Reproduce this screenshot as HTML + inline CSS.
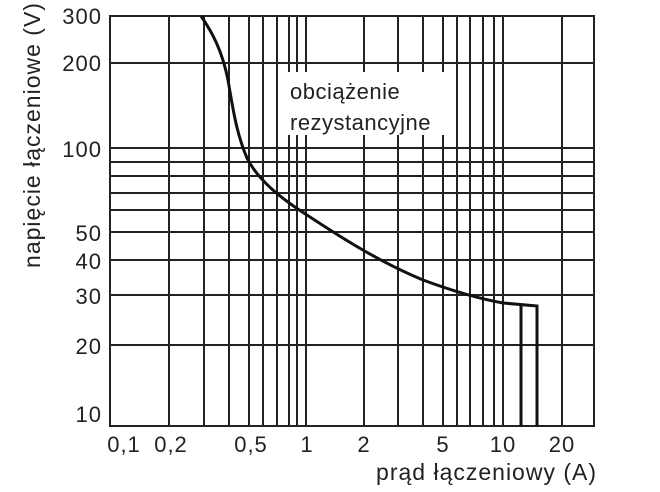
<!DOCTYPE html>
<html><head><meta charset="utf-8"><style>
html,body{margin:0;padding:0;background:#fff;}
svg{display:block;font-family:"Liberation Sans",sans-serif;}
</style></head><body>
<svg width="660" height="492" viewBox="0 0 660 492" xmlns="http://www.w3.org/2000/svg">
<g stroke="#222" stroke-width="2" fill="none">
<line x1="110" y1="63" x2="594" y2="63"/>
<line x1="110" y1="148" x2="594" y2="148"/>
<line x1="110" y1="162" x2="594" y2="162"/>
<line x1="110" y1="176" x2="594" y2="176"/>
<line x1="110" y1="193" x2="594" y2="193"/>
<line x1="110" y1="210" x2="594" y2="210"/>
<line x1="110" y1="232" x2="594" y2="232"/>
<line x1="110" y1="260" x2="594" y2="260"/>
<line x1="110" y1="295" x2="594" y2="295"/>
<line x1="110" y1="345" x2="594" y2="345"/>
<line x1="169" y1="16" x2="169" y2="426"/>
<line x1="204" y1="16" x2="204" y2="426"/>
<line x1="229" y1="16" x2="229" y2="426"/>
<line x1="249" y1="16" x2="249" y2="426"/>
<line x1="263" y1="16" x2="263" y2="426"/>
<line x1="277" y1="16" x2="277" y2="426"/>
<line x1="289" y1="16" x2="289" y2="426"/>
<line x1="297" y1="16" x2="297" y2="426"/>
<line x1="306" y1="16" x2="306" y2="426"/>
<line x1="364" y1="16" x2="364" y2="426"/>
<line x1="398" y1="16" x2="398" y2="426"/>
<line x1="423" y1="16" x2="423" y2="426"/>
<line x1="443" y1="16" x2="443" y2="426"/>
<line x1="457" y1="16" x2="457" y2="426"/>
<line x1="470" y1="16" x2="470" y2="426"/>
<line x1="483" y1="16" x2="483" y2="426"/>
<line x1="494" y1="16" x2="494" y2="426"/>
<line x1="503" y1="16" x2="503" y2="426"/>
<line x1="562" y1="16" x2="562" y2="426"/>
</g>
<rect x="284" y="72" width="162" height="63" fill="#fff"/>
<rect x="110" y="16" width="484" height="410" fill="none" stroke="#222" stroke-width="2"/>
<path d="M201,16 C212,32 222,50 228,80 C233,110 237,135 247,158 C258,180 280,198 310,217 C345,240 380,262 423,280 C450,290 475,298 503,303 L537,306 L537,426 M521,305 L521,426" fill="none" stroke="#111" stroke-width="3"/>
<g font-size="22" fill="#222" letter-spacing="0.5">
<text x="290" y="99">obciążenie</text>
<text x="290" y="130">rezystancyjne</text>
</g>
<g font-size="22" fill="#222" text-anchor="end" letter-spacing="1">
<text x="102" y="24">300</text>
<text x="102" y="71">200</text>
<text x="102" y="157">100</text>
<text x="102" y="241">50</text>
<text x="102" y="269">40</text>
<text x="102" y="304">30</text>
<text x="102" y="354">20</text>
<text x="102" y="422">10</text>
</g>
<g font-size="22" fill="#222" text-anchor="middle" letter-spacing="1">
<text x="124" y="452">0,1</text>
<text x="171" y="452">0,2</text>
<text x="251" y="452">0,5</text>
<text x="307" y="452">1</text>
<text x="364" y="452">2</text>
<text x="443" y="452">5</text>
<text x="503" y="452">10</text>
<text x="562" y="452">20</text>
</g>
<text x="597" y="480" font-size="23" fill="#222" text-anchor="end" letter-spacing="1">prąd łączeniowy (A)</text>
<text transform="translate(40,135) rotate(-90)" font-size="23" fill="#222" text-anchor="middle" letter-spacing="1">napięcie łączeniowe (V)</text>
</svg>
</body></html>
